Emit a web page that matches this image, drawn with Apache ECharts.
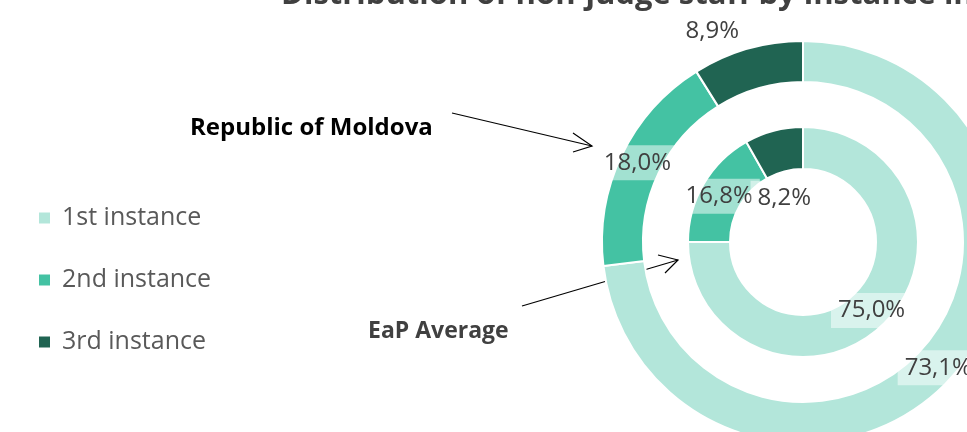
<!DOCTYPE html>
<html><head><meta charset="utf-8">
<script src="https://cdn.jsdelivr.net/npm/echarts@6/dist/echarts.min.js"></script>
<style>html,body{margin:0;padding:0;background:#fff}#c{width:967px;height:432px}</style>
</head><body><div id="c"></div>
<script>
const categories = ['1st instance', '2nd instance', '3rd instance'];
const moldovaValues = [73.1, 18.0, 8.9];
const eapValues = [75.0, 16.8, 8.2];
const colors = ['#B3E6DA', '#44C2A3', '#206452'];
const titleText = 'Distribution of non-judge staff by instance in';

const chart = echarts.init(document.getElementById('c'));
const fmt = p => p.value.toFixed(1).replace('.', ',') + '%';
const FONT = 'Open Sans';
const labelStyle = {
  show: true, position: 'inside', formatter: fmt,
  fontFamily: FONT, fontSize: 24, color: '#404040',
  backgroundColor: 'rgba(255,255,255,0.5)', padding: [6, 7, 5, 7]
};
function mk(vals) { return vals.map((v, i) => ({ name: categories[i], value: v })); }

chart.setOption({
  animation: false,
  color: colors,
  title: {
    text: titleText, left: 281, top: -20, padding: 0,
    textStyle: { fontFamily: FONT, fontSize: 31, fontWeight: 'bold', color: '#404040' }
  },
  legend: {
    orient: 'vertical', left: 37, top: 205, icon: 'rect', padding: 0,
    itemWidth: 13, itemHeight: 13, itemGap: 36,
    data: categories,
    textStyle: { fontFamily: FONT, fontSize: 25, color: '#595959', lineHeight: 26, padding: [0, 0, 0, 6] }
  },
  series: [
    {
      type: 'pie', name: 'Republic of Moldova', center: [803, 242], radius: [160, 201],
      startAngle: 90, clockwise: true, avoidLabelOverlap: false,
      itemStyle: { borderColor: '#fff', borderWidth: 2 },
      label: labelStyle, labelLine: { show: false },
      labelLayout: p => (p.dataIndex === 2 ? { dx: -40, dy: -34 } : (p.dataIndex === 0 ? { dx: -2, dy: 4 } : {})),
      data: mk(moldovaValues)
    },
    {
      type: 'pie', name: 'EaP Average', center: [803, 242], radius: [73, 115],
      startAngle: 90, clockwise: true, avoidLabelOverlap: false,
      itemStyle: { borderColor: '#fff', borderWidth: 2 },
      label: labelStyle, labelLine: { show: false },
      labelLayout: p => (p.dataIndex === 2 ? { dx: 6, dy: 50 } : (p.dataIndex === 1 ? { dx: 0, dy: 3 } : {})),
      data: mk(eapValues)
    }
  ],
  graphic: [
    { type: 'text', left: 190, top: 116, style: { text: 'Republic of Moldova', font: 'bold 24px "Open Sans"', fill: '#000' } },
    { type: 'text', left: 368, top: 320, style: { text: 'EaP Average', font: 'bold 23px "Open Sans"', fill: '#404040' } },
    { type: 'line', shape: { x1: 452, y1: 113, x2: 592, y2: 146 }, style: { stroke: '#000', lineWidth: 1.2 } },
    { type: 'polyline', shape: { points: [[573, 133], [592, 146], [573, 152]] }, style: { stroke: '#000', lineWidth: 1.2, fill: null } },
    { type: 'line', shape: { x1: 522, y1: 306, x2: 678, y2: 260 }, style: { stroke: '#000', lineWidth: 1.2 } },
    { type: 'polyline', shape: { points: [[658, 255], [678, 260], [665, 273]] }, style: { stroke: '#000', lineWidth: 1.2, fill: null } }
  ]
});
</script></body></html>
